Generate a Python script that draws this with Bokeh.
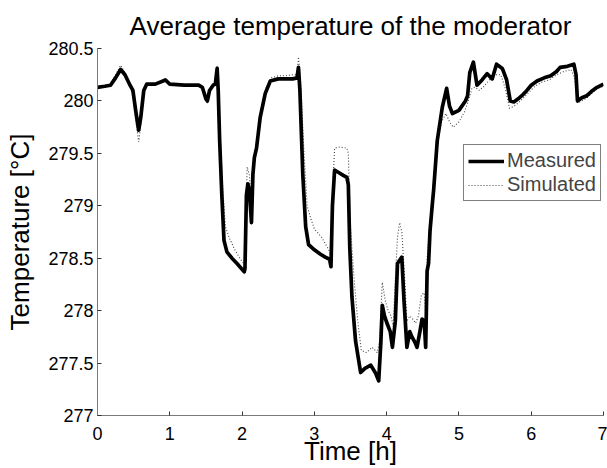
from bokeh.plotting import figure
from bokeh.models import Range1d, FixedTicker, Legend, LegendItem
from bokeh.embed import file_html
from bokeh.resources import INLINE

# ---- data ----
meas_t = [0.00, 0.10, 0.18, 0.25, 0.32, 0.38, 0.45, 0.49, 0.53, 0.57, 0.60, 0.64, 0.68, 0.80, 0.94,
          1.00, 1.20, 1.40, 1.45, 1.50, 1.52, 1.55, 1.60, 1.63, 1.655, 1.67, 1.69, 1.72, 1.75, 1.79,
          1.86, 1.93, 2.03, 2.04, 2.06, 2.08, 2.10, 2.13, 2.15, 2.17, 2.20, 2.25, 2.32, 2.39, 2.50,
          2.60, 2.70, 2.76, 2.78, 2.80, 2.84, 2.88, 2.92, 3.00, 3.08, 3.15, 3.21, 3.23, 3.25, 3.28,
          3.33, 3.40, 3.45, 3.47, 3.49, 3.52, 3.57, 3.64, 3.70, 3.78, 3.85, 3.89, 3.92, 3.94, 3.97,
          4.01, 4.05, 4.08, 4.12, 4.15, 4.18, 4.21, 4.24, 4.28, 4.32, 4.35, 4.39, 4.42, 4.46, 4.49,
          4.52, 4.54, 4.56, 4.58, 4.60, 4.63, 4.65, 4.70, 4.77, 4.83, 4.87, 4.91, 5.00, 5.09, 5.12,
          5.15, 5.20, 5.25, 5.32, 5.39, 5.46, 5.52, 5.60, 5.66, 5.71, 5.76, 5.82, 5.87, 5.94, 6.00,
          6.08, 6.18, 6.27, 6.35, 6.40, 6.50, 6.59, 6.62, 6.64, 6.70, 6.77, 6.85, 6.91, 7.00]
meas_T = [280.13, 280.14, 280.15, 280.22, 280.30, 280.25, 280.15, 280.10, 279.90, 279.72, 279.85, 280.10, 280.16, 280.16, 280.20,
          280.16, 280.15, 280.15, 280.13, 280.02, 280.00, 280.10, 280.15, 280.16, 280.31, 280.10, 279.62, 279.10, 278.67, 278.56,
          278.50, 278.45, 278.37, 278.40, 279.10, 279.21, 279.15, 278.84, 279.30, 279.46, 279.55, 279.84, 280.07, 280.19, 280.21,
          280.21, 280.21, 280.22, 280.32, 280.10, 279.30, 278.80, 278.63, 278.58, 278.54, 278.51, 278.49, 278.42, 279.00, 279.34,
          279.32, 279.29, 279.27, 279.20, 278.60, 278.13, 277.71, 277.41, 277.45, 277.48, 277.40, 277.33, 277.70, 278.05, 277.95,
          277.87, 277.80, 277.65, 277.90, 278.45, 278.48, 278.51, 278.10, 277.65, 277.80, 277.75, 277.70, 277.65, 277.80, 277.92,
          277.90, 277.65, 278.38, 278.45, 278.76, 279.00, 279.15, 279.62, 279.94, 280.12, 279.95, 279.88, 279.91, 280.00, 280.05,
          280.27, 280.37, 280.15, 280.20, 280.26, 280.21, 280.35, 280.31, 280.20, 280.00, 279.99, 280.02, 280.05, 280.10, 280.15,
          280.19, 280.22, 280.24, 280.28, 280.32, 280.33, 280.35, 280.25, 280.00, 280.03, 280.05, 280.10, 280.13, 280.16]

sim_t = [0.00, 0.10, 0.18, 0.25, 0.32, 0.38, 0.45, 0.49, 0.53, 0.57, 0.60, 0.64, 0.68, 0.80, 0.94,
         1.00, 1.20, 1.40, 1.45, 1.50, 1.52, 1.55, 1.60, 1.63, 1.655, 1.67, 1.70, 1.73, 1.77, 1.82,
         1.90, 1.97, 2.03, 2.05, 2.07, 2.10, 2.13, 2.15, 2.18, 2.22, 2.27, 2.33, 2.40, 2.50, 2.60,
         2.70, 2.76, 2.78, 2.81, 2.85, 2.90, 2.95, 3.00, 3.10, 3.20, 3.23, 3.25, 3.28, 3.35, 3.45,
         3.47, 3.50, 3.55, 3.60, 3.65, 3.72, 3.80, 3.87, 3.90, 3.94, 3.98, 4.02, 4.06, 4.09, 4.12,
         4.15, 4.18, 4.21, 4.25, 4.28, 4.32, 4.36, 4.40, 4.44, 4.48, 4.52, 4.54, 4.56, 4.60, 4.65,
         4.70, 4.76, 4.82, 4.87, 4.92, 5.00, 5.08, 5.13, 5.18, 5.23, 5.28, 5.35, 5.42, 5.50, 5.58,
         5.64, 5.70, 5.76, 5.82, 5.88, 5.95, 6.05, 6.15, 6.25, 6.35, 6.45, 6.55, 6.60, 6.64, 6.70,
         6.77, 6.85, 6.92, 7.00]
sim_T = [280.12, 280.14, 280.16, 280.25, 280.34, 280.27, 280.14, 280.05, 279.80, 279.61, 279.78, 280.08, 280.16, 280.16, 280.19,
         280.16, 280.15, 280.15, 280.12, 280.00, 279.98, 280.08, 280.15, 280.17, 280.33, 280.15, 279.65, 279.20, 278.80, 278.70,
         278.58, 278.50, 278.44, 278.70, 279.37, 279.30, 279.00, 279.35, 279.50, 279.70, 279.95, 280.12, 280.22, 280.24, 280.24,
         280.25, 280.25, 280.42, 280.20, 279.60, 279.00, 278.88, 278.78, 278.70, 278.58, 278.50, 279.10, 279.55, 279.56, 279.55,
         279.50, 278.80, 278.30, 277.90, 277.62, 277.60, 277.65, 277.60, 277.70, 278.27, 278.10, 278.00, 277.95, 277.85, 278.30,
         278.70, 278.84, 278.75, 278.30, 277.90, 277.95, 277.92, 277.88, 277.95, 278.15, 278.17, 277.95, 278.50, 278.85, 279.25,
         279.60, 279.80, 279.88, 279.80, 279.75, 279.80, 279.90, 280.00, 280.12, 280.13, 280.10, 280.14, 280.20, 280.25, 280.25,
         280.12, 279.93, 279.95, 279.98, 280.02, 280.07, 280.14, 280.18, 280.20, 280.25, 280.28, 280.30, 280.22, 279.98, 280.00,
         280.03, 280.08, 280.12, 280.14]

x_ticks = [0, 1, 2, 3, 4, 5, 6, 7]
y_ticks = [277.0, 277.5, 278.0, 278.5, 279.0, 279.5, 280.0, 280.5]
y_tick_labels = ["277", "277.5", "278", "278.5", "279", "279.5", "280", "280.5"]

FONT = "Liberation Sans"

p = figure(width=607, height=468, output_backend="svg", toolbar_location=None,
           x_range=Range1d(0, 7), y_range=Range1d(277, 280.5),
           min_border_left=97, min_border_right=4, min_border_top=48, min_border_bottom=53,
           title="Average temperature of the moderator")
p.outline_line_color = None
p.background_fill_color = "white"
p.border_fill_color = "white"
p.xgrid.visible = False
p.ygrid.visible = False

p.title.align = "center"
p.title.text_font = FONT
p.title.text_font_style = "normal"
p.title.text_font_size = "26px"
p.title.text_color = "black"
p.title.standoff = 15

for ax in (p.xaxis[0], p.yaxis[0]):
    ax.axis_line_color = "#7a7a7a"
    ax.axis_line_width = 1
    ax.major_tick_line_color = "#333333"
    ax.major_tick_in = 4
    ax.major_tick_out = 0
    ax.minor_tick_line_color = None
    ax.major_label_text_font = FONT
    ax.major_label_text_font_size = "18px"
    ax.major_label_text_color = "black"
    ax.axis_label_text_font = FONT
    ax.axis_label_text_font_style = "normal"
    ax.axis_label_text_font_size = "26px"
    ax.axis_label_text_color = "black"

p.xaxis.ticker = FixedTicker(ticks=x_ticks)
p.yaxis.ticker = FixedTicker(ticks=y_ticks)
p.yaxis.major_label_overrides = {t: s for t, s in zip(y_ticks, y_tick_labels)}
p.xaxis.axis_label = "Time [h]"
p.yaxis.axis_label = "Temperature [°C]"
p.xaxis.major_label_standoff = 11
p.xaxis.axis_label_standoff = -7
p.yaxis.major_label_standoff = 4
p.yaxis.axis_label_standoff = 10

r_sim = p.line(sim_t, sim_T, line_color="#444444", line_width=1.1, line_dash="1 2")
r_meas = p.line(meas_t, meas_T, line_color="black", line_width=3.7, line_join="round")

legend = Legend(items=[LegendItem(label="Measured", renderers=[r_meas]),
                       LegendItem(label="Simulated", renderers=[r_sim])],
                location=(366, 214))
legend.border_line_color = "black"
legend.border_line_width = 1
legend.background_fill_color = "white"
legend.background_fill_alpha = 1
legend.label_text_font = FONT
legend.label_text_font_size = "20px"
legend.label_standoff = 3
legend.glyph_width = 36
legend.glyph_height = 20
legend.label_height = 20
legend.spacing = 1
legend.padding = 4
legend.margin = 0
p.add_layout(legend, "center")

open("out.html", "w").write(file_html(p, INLINE))
